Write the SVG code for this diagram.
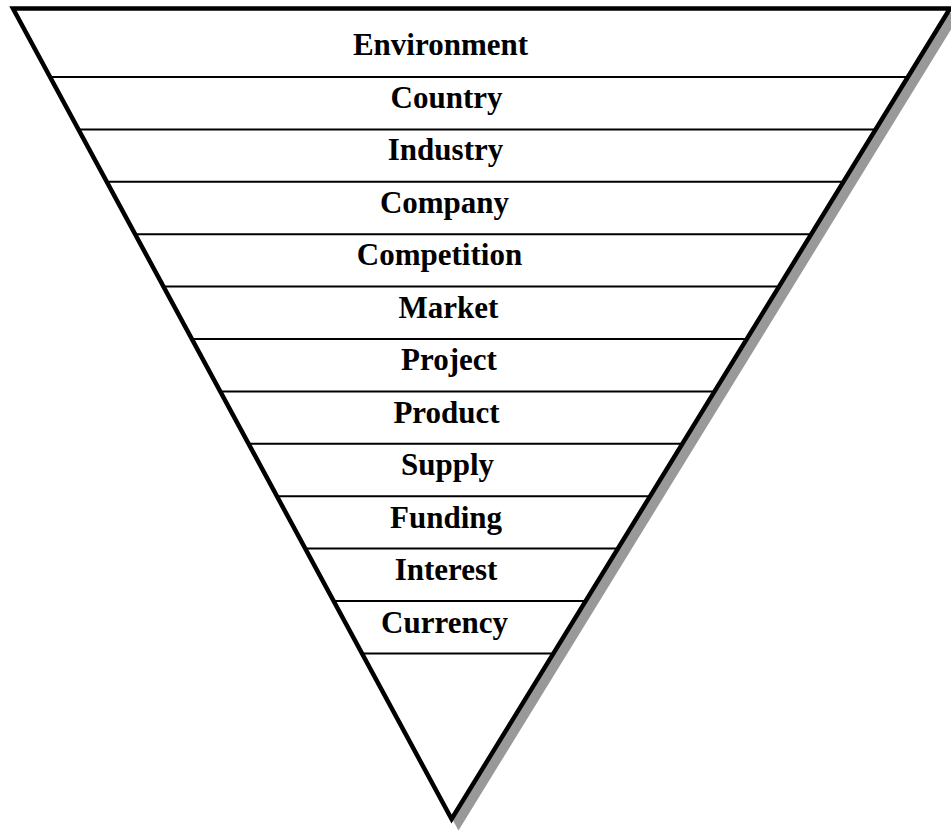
<svg xmlns="http://www.w3.org/2000/svg" width="951" height="831" viewBox="0 0 951 831">
  <style>
    .layer-line { stroke: #000; stroke-width: 2; fill: none; }
    .label { font-family: "Liberation Serif", "Times New Roman", serif; font-weight: bold; font-size: 31px; fill: #000; text-anchor: middle; }
  </style>
  <rect width="951" height="831" fill="#fff"/>
  <g id="funnel">
    <polygon id="shadow" points="20,15.5 957,15.5 458.6,826" fill="#999" stroke="#999" stroke-width="4.5" stroke-linejoin="miter"/>
    <polygon id="outline" points="13,8.5 950,8.5 451.6,819" fill="#fff" stroke="#000" stroke-width="4.5" stroke-linejoin="miter"/>
  </g>
  <g id="connectors">
    <line class="layer-line" x1="50.1" y1="77" x2="907.9" y2="77"/>
    <line class="layer-line" x1="78.4" y1="129.4" x2="875.6" y2="129.4"/>
    <line class="layer-line" x1="106.8" y1="181.8" x2="843.4" y2="181.8"/>
    <line class="layer-line" x1="135.1" y1="234.2" x2="811.2" y2="234.2"/>
    <line class="layer-line" x1="163.5" y1="286.6" x2="779.0" y2="286.6"/>
    <line class="layer-line" x1="191.8" y1="339.0" x2="746.7" y2="339.0"/>
    <line class="layer-line" x1="220.2" y1="391.4" x2="714.5" y2="391.4"/>
    <line class="layer-line" x1="248.5" y1="443.8" x2="682.3" y2="443.8"/>
    <line class="layer-line" x1="276.9" y1="496.2" x2="650.1" y2="496.2"/>
    <line class="layer-line" x1="305.3" y1="548.6" x2="617.8" y2="548.6"/>
    <line class="layer-line" x1="333.6" y1="601.0" x2="585.6" y2="601.0"/>
    <line class="layer-line" x1="362.0" y1="653.4" x2="553.4" y2="653.4"/>
  </g>
  <g id="environment"><text class="label" x="440.5" y="55">Environment</text></g>
  <g id="country"><text class="label" x="446.5" y="107.5">Country</text></g>
  <g id="industry"><text class="label" x="445.5" y="160">Industry</text></g>
  <g id="company"><text class="label" x="444.5" y="212.5">Company</text></g>
  <g id="competition"><text class="label" x="439.5" y="265">Competition</text></g>
  <g id="market"><text class="label" x="448.5" y="317.5">Market</text></g>
  <g id="project"><text class="label" x="449" y="370">Project</text></g>
  <g id="product"><text class="label" x="446.5" y="422.5">Product</text></g>
  <g id="supply"><text class="label" x="447.5" y="475">Supply</text></g>
  <g id="funding"><text class="label" x="446" y="527.5">Funding</text></g>
  <g id="interest"><text class="label" x="446" y="580">Interest</text></g>
  <g id="currency"><text class="label" x="444.5" y="632.5">Currency</text></g>
</svg>
